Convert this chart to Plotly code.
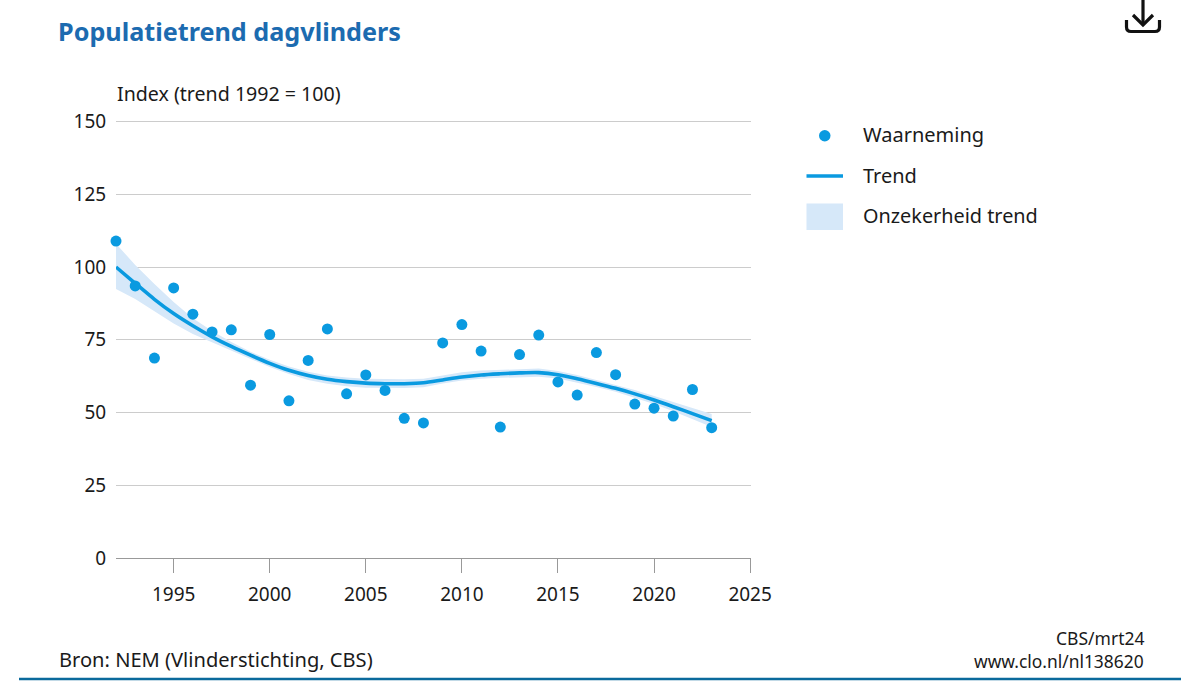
import plotly.graph_objects as go

W, H = 1200, 694
FONT = "Noto Sans"
TEXT = "#1a1a1a"
BLUE = "#0a9ae0"
BAND = "#d6e8f9"

years = list(range(1992, 2024))
observed = [108.9, 93.5, 68.7, 92.8, 83.8, 77.7, 78.4, 59.4, 76.8, 54.0, 67.9, 78.7, 56.4, 62.9, 57.6, 48.0,
            46.4, 73.9, 80.2, 71.1, 45.0, 69.9, 76.6, 60.5, 56.0, 70.6, 63.0, 52.9, 51.5, 48.8, 57.9, 44.8]
trend = [100.0, 94.4, 88.9, 84.0, 79.8, 76.0, 72.7, 69.7, 66.9, 64.5, 62.7, 61.4, 60.6, 60.1, 59.9, 59.9,
         60.2, 61.2, 62.2, 62.9, 63.3, 63.6, 63.7, 63.0, 61.6, 60.0, 58.3, 56.4, 54.3, 52.0, 49.6, 47.2]
upper = [108.0, 100.7, 94.2, 88.0, 82.4, 78.0, 74.2, 70.9, 68.1, 65.8, 64.0, 62.7, 62.0, 61.6, 61.5, 61.4,
         61.6, 62.8, 63.8, 64.4, 64.7, 65.0, 65.1, 64.3, 62.9, 61.2, 59.5, 57.7, 55.7, 53.6, 51.4, 49.5]
lower = [92.4, 89.0, 84.8, 80.6, 77.0, 74.0, 71.2, 68.4, 65.6, 63.2, 61.2, 59.9, 59.0, 58.5, 58.4, 58.4,
         58.7, 60.0, 61.0, 61.6, 61.9, 62.2, 62.3, 61.7, 60.3, 58.8, 57.1, 55.1, 52.9, 50.4, 47.8, 45.0]
x_ticks = [1995, 2000, 2005, 2010, 2015, 2020, 2025]
y_ticks = [0, 25, 50, 75, 100, 125, 150]
legend_names = ["Waarneming", "Trend", "Onzekerheid trend"]


def px(x):
    return x / W


def py(y):
    return 1 - y / H


fig = go.Figure()
fig.add_trace(go.Scatter(x=years + years[::-1], y=upper + lower[::-1], mode="lines", fill="toself",
                         fillcolor=BAND, line=dict(width=0, color=BAND), hoverinfo="skip", showlegend=False,
                         name=legend_names[2]))
fig.add_trace(go.Scatter(x=years, y=trend, mode="lines", line=dict(color=BLUE, width=3.6, shape="spline", smoothing=0.8),
                         showlegend=False, name=legend_names[1]))
fig.add_trace(go.Scatter(x=years, y=observed, mode="markers", marker=dict(color=BLUE, size=11), cliponaxis=False,
                         showlegend=False, name=legend_names[0]))

shapes = [
    # legend keys
    dict(type="circle", xref="paper", yref="paper", x0=px(819), x1=px(830.5), y0=py(141.5), y1=py(130),
         fillcolor=BLUE, line_width=0),
    dict(type="line", xref="paper", yref="paper", x0=px(806.5), x1=px(843), y0=py(176), y1=py(176),
         line=dict(color=BLUE, width=3.4)),
    dict(type="rect", xref="paper", yref="paper", x0=px(806.5), x1=px(843), y0=py(230), y1=py(203.5),
         fillcolor=BAND, line_width=0),
    # bottom rule
    dict(type="line", xref="paper", yref="paper", x0=px(19), x1=px(1181), y0=py(679), y1=py(679),
         line=dict(color="#0b6a9c", width=2.6)),
    # download icon
    dict(type="path", xref="paper", yref="paper",
         path=f"M {px(1126.5)} {py(20)} L {px(1126.5)} {py(27)} Q {px(1126.5)} {py(31.5)} {px(1131)} {py(31.5)} "
              f"L {px(1155)} {py(31.5)} Q {px(1159.5)} {py(31.5)} {px(1159.5)} {py(27)} L {px(1159.5)} {py(20)}",
         line=dict(color="#111111", width=3.2), fillcolor="rgba(0,0,0,0)"),
    dict(type="line", xref="paper", yref="paper", x0=px(1143), x1=px(1143), y0=py(0), y1=py(25),
         line=dict(color="#111111", width=3.2)),
    dict(type="path", xref="paper", yref="paper",
         path=f"M {px(1133)} {py(15)} L {px(1143)} {py(25)} L {px(1153)} {py(15)}",
         line=dict(color="#111111", width=3.2), fillcolor="rgba(0,0,0,0)"),
]


def label(x, y, text, size=20, color=TEXT, xanchor="left", bold=False):
    return dict(xref="paper", yref="paper", x=px(x), y=py(y), text=f"<b>{text}</b>" if bold else text, showarrow=False,
                xanchor=xanchor, yanchor="middle", align=xanchor, borderpad=0, borderwidth=0,
                font=dict(family=FONT, size=size, color=color))


annotations = [
    label(58, 31.5, "Populatietrend dagvlinders", size=25.2, color="#1c6bb0", bold=True),
    label(117, 93, "Index (trend 1992 = 100)", size=19.6),
    label(863, 134, legend_names[0], size=20),
    label(863, 175, legend_names[1], size=20),
    label(863, 215, legend_names[2], size=19.85),
    label(59, 659.5, "Bron: NEM (Vlinderstichting, CBS)", size=20.1),
    label(1144, 638, "CBS/mrt24", size=17.5, xanchor="right"),
    label(1144, 661, "www.clo.nl/nl138620", size=17.4, xanchor="right"),
]

fig.update_layout(
    width=W, height=H, margin=dict(l=0, r=0, t=0, b=0, pad=0, autoexpand=False), autosize=False,
    paper_bgcolor="white", plot_bgcolor="white", showlegend=False,
    shapes=shapes, annotations=annotations,
    xaxis=dict(domain=[px(116), px(750.5)], range=[1992, 2025.02], tickvals=x_ticks, ticktext=[str(v) for v in x_ticks],
               ticks="outside", ticklen=14, tickwidth=1.3, tickcolor="#999999", showgrid=False, showline=True,
               linecolor="#999999", linewidth=1.3, zeroline=False, anchor="y", ticklabelstandoff=5,
               tickfont=dict(family=FONT, size=19, color=TEXT)),
    yaxis=dict(domain=[py(558), py(119.75)], range=[0, 150.6], tickvals=y_ticks, ticktext=[str(v) for v in y_ticks],
               ticks="outside", ticklen=5, tickcolor="white", showgrid=True, gridcolor="#cccccc", gridwidth=1.3,
               showline=False, zeroline=False, anchor="x",
               tickfont=dict(family=FONT, size=19, color=TEXT)),
)
fig.write_html("out.html", config=dict(displayModeBar=False),
               post_script="document.documentElement.style.overflow='hidden';document.body.style.margin='0';")
